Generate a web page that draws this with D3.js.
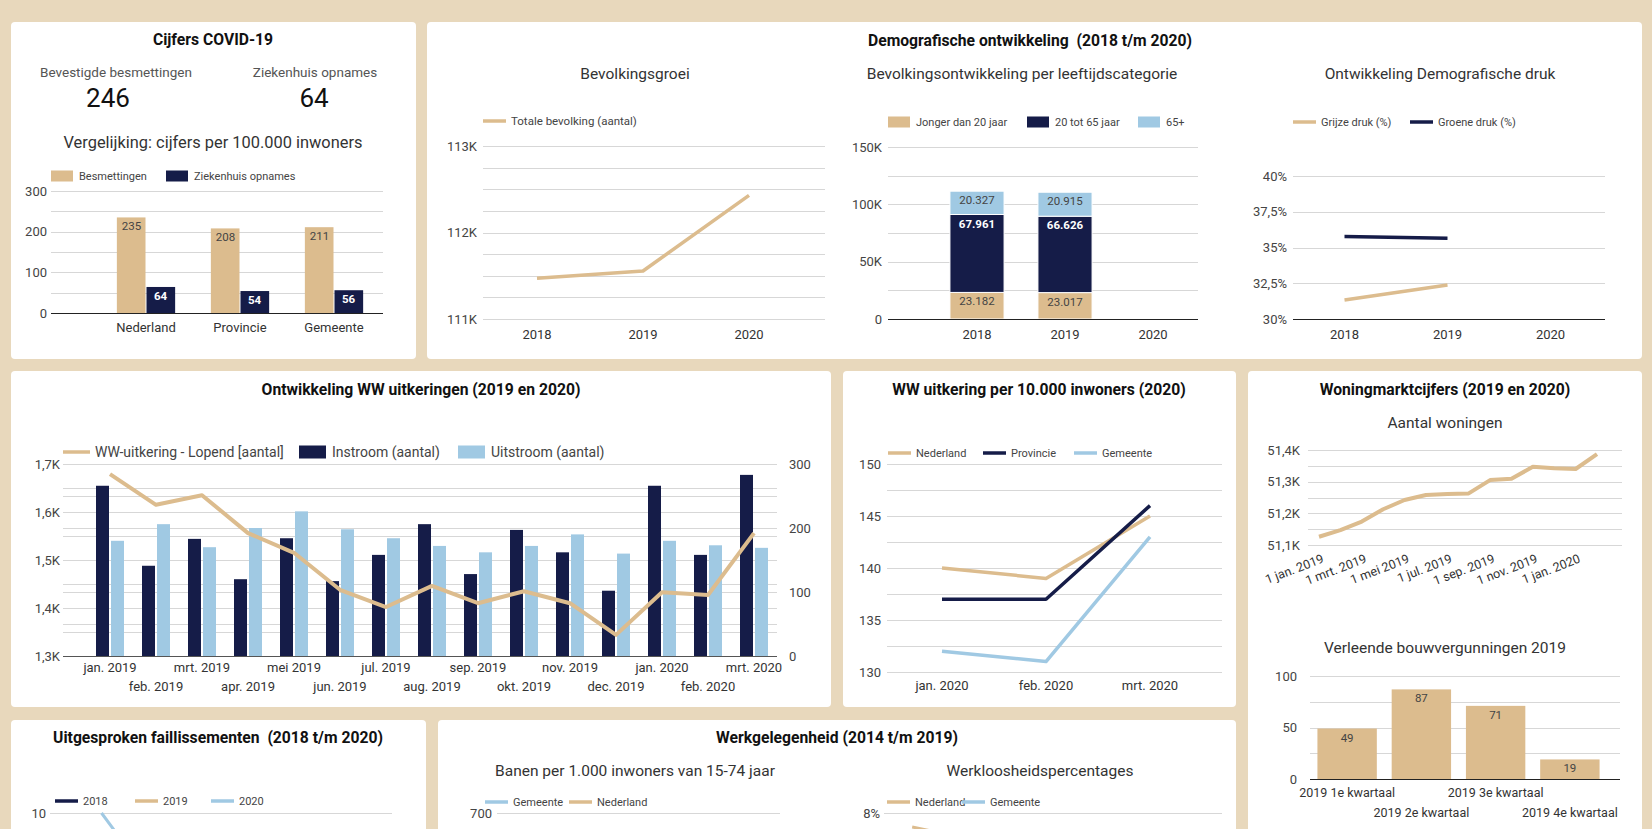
<!DOCTYPE html>
<html>
<head>
<meta charset="utf-8">
<script src="https://cdnjs.cloudflare.com/ajax/libs/d3/7.8.5/d3.min.js"></script>
<style>
  html, body { margin: 0; padding: 0; background: #e8d8bc; overflow: hidden; }
  svg { display: block; font-family: Roboto, 'Noto Sans', sans-serif; }
</style>
</head>
<body>
<div id="dash"></div>
<script>
// Dashboard data
const covidKpiLabels = ['Bevestigde besmettingen', 'Ziekenhuis opnames'];
const covidKpiValues = [246, 64];
const covidCats = ['Nederland', 'Provincie', 'Gemeente'];
const covidBesmettingen = [235, 208, 211];
const covidZiekenhuis = [64, 54, 56];

const years = ['2018', '2019', '2020'];
const bevolking = [111470, 111555, 112430];
const jongerDan20 = [23182, 23017];
const tussen20en65 = [67961, 66626];
const ouder65 = [20327, 20915];
const grijzeDruk = [31.33, 32.38];
const groeneDruk = [35.77, 35.65];

const wwMonths = ['jan. 2019', 'feb. 2019', 'mrt. 2019', 'apr. 2019', 'mei 2019', 'jun. 2019', 'jul. 2019',
  'aug. 2019', 'sep. 2019', 'okt. 2019', 'nov. 2019', 'dec. 2019', 'jan. 2020', 'feb. 2020', 'mrt. 2020'];
const wwLopend = [1679, 1615, 1635, 1556, 1515, 1438, 1402, 1446, 1410, 1435, 1410, 1344, 1433, 1427, 1556];
const wwInstroom = [266, 141, 183, 120, 184, 117, 158, 206, 128, 197, 162, 102, 266, 158, 283];
const wwUitstroom = [180, 206, 170, 200, 226, 198, 184, 172, 162, 172, 190, 160, 180, 173, 169];

const ww10kMonths = ['jan. 2020', 'feb. 2020', 'mrt. 2020'];
const ww10kNederland = [140, 139, 145];
const ww10kProvincie = [137, 137, 146];
const ww10kGemeente = [132, 131, 143];

const woningMonths = ['1 jan. 2019', '1 feb. 2019', '1 mrt. 2019', '1 apr. 2019', '1 mei 2019', '1 jun. 2019',
  '1 jul. 2019', '1 aug. 2019', '1 sep. 2019', '1 okt. 2019', '1 nov. 2019', '1 dec. 2019', '1 jan. 2020', '1 feb. 2020'];
const woningen = [51126, 51147, 51174, 51213, 51242, 51258, 51261, 51263, 51305, 51309, 51347, 51342, 51340, 51387];

const kwartalen = ['2019 1e kwartaal', '2019 2e kwartaal', '2019 3e kwartaal', '2019 4e kwartaal'];
const bouwvergunningen = [49, 87, 71, 19];

const faillKwartalen = ['1e kw', '2e kw', '3e kw', '4e kw'];
const faill2018 = [6, 7, 5, 6];
const faill2019 = [5, 6, 7, 4];
const faill2020 = [10, 4, 3, 3];

const werkJaren = ['2014', '2015', '2016', '2017', '2018', '2019'];
const banenGemeente = [560, 565, 575, 590, 600, 610];
const banenNederland = [580, 585, 592, 605, 615, 620];
const werklNederland = [7.4, 6.9, 6.0, 4.9, 3.8, 3.4];
const werklGemeente = [6.8, 6.3, 5.5, 4.5, 3.5, 3.1];

// Colours
const TAN = '#dcbc8e';
const NAVY = '#151c48';
const BLUE = '#a0c9e3';
const GRID = '#d7d7d7';
const BG = '#e8d8bc';

const W = 1652, H = 829;
const TITLE = 15.7;

const fmtInt = d3.formatLocale({ decimal: ',', thousands: '.', grouping: [3], currency: ['€', ''] }).format(',d');
const fmtK = v => v === 0 ? '0' : String(+(v / 1000).toFixed(1)).replace('.', ',') + 'K';
const fmtPct = v => String(v).replace('.', ',') + '%';

const svg = d3.select('#dash').append('svg')
  .attr('width', W)
  .attr('height', H)
  .attr('viewBox', `0 0 ${W} ${H}`);

svg.append('rect').attr('width', W).attr('height', H).style('fill', BG);

function card(x, y, w, h) {
  svg.append('rect')
    .attr('x', x).attr('y', y).attr('width', w).attr('height', h)
    .attr('rx', 4).attr('ry', 4)
    .style('fill', '#ffffff');
  return svg.append('g');
}

function label(g, x, y, str, size, opts = {}) {
  return g.append('text')
    .attr('x', x)
    .attr('y', y)
    .attr('dy', '0.35em')
    .attr('text-anchor', opts.anchor || 'middle')
    .style('font-size', size + 'px')
    .style('font-weight', opts.weight || 400)
    .style('fill', opts.color || '#444')
    .style('white-space', 'pre')
    .text(str);
}

function gridLines(g, y, ticks, x0, x1) {
  g.selectAll(null)
    .data(ticks)
    .enter()
    .append('line')
    .attr('x1', x0).attr('x2', x1)
    .attr('y1', d => Math.round(y(d)) + 0.5)
    .attr('y2', d => Math.round(y(d)) + 0.5)
    .style('stroke', GRID)
    .style('stroke-width', 1);
}

function baseline(g, yPos, x0, x1, color = '#222') {
  g.append('line')
    .attr('x1', x0).attr('x2', x1)
    .attr('y1', Math.round(yPos) + 0.5).attr('y2', Math.round(yPos) + 0.5)
    .style('stroke', color)
    .style('stroke-width', 1.2);
}

function yLabels(g, y, ticks, x, fmt, anchor = 'end', size = 13) {
  ticks.forEach(t => label(g, x, y(t), fmt(t), size, { anchor, color: '#444' }));
}

function legendBox(g, x, y, color, str, w = 22, h = 11, size = 11) {
  g.append('rect').attr('x', x).attr('y', y - h / 2).attr('width', w).attr('height', h).style('fill', color);
  label(g, x + w + 6, y, str, size, { anchor: 'start', color: '#444' });
}

function legendLine(g, x, y, color, str, w = 23, size = 11) {
  g.append('line')
    .attr('x1', x).attr('x2', x + w).attr('y1', y).attr('y2', y)
    .style('stroke', color).style('stroke-width', 3.5);
  label(g, x + w + 5, y, str, size, { anchor: 'start', color: '#444' });
}

function drawLine(g, xs, y, values, color, width = 3.5) {
  const line = d3.line()
    .x((d, i) => xs(i))
    .y(d => y(d));
  g.append('path')
    .datum(values)
    .attr('d', line)
    .style('fill', 'none')
    .style('stroke', color)
    .style('stroke-width', width)
    .style('stroke-linejoin', 'round');
}

// ---------- Cijfers COVID-19 ----------
{
  const g = card(11, 22, 405, 337);
  label(g, 213, 40, 'Cijfers COVID-19', TITLE, { weight: 700, color: '#111' });
  const kpiLabelX = [116, 315];
  const kpiValueX = [108, 314];
  covidKpiLabels.forEach((t, i) => {
    label(g, kpiLabelX[i], 72, t, 13.5, { color: '#555' });
    label(g, kpiValueX[i], 98, covidKpiValues[i], 26, { color: '#111' });
  });
  label(g, 213, 142, 'Vergelijking: cijfers per 100.000 inwoners', 16.4, { color: '#333' });

  legendBox(g, 51, 176, TAN, 'Besmettingen');
  legendBox(g, 166, 176, NAVY, 'Ziekenhuis opnames');

  const x = d3.scaleBand().domain(covidCats).range([99, 381]);
  const y = d3.scaleLinear().domain([0, 300]).range([313, 191]);
  gridLines(g, y, d3.range(50, 301, 50), 51, 383);
  yLabels(g, y, [0, 100, 200, 300], 47, d => d);

  const bw = x.bandwidth() * 0.31;
  covidCats.forEach((c, i) => {
    const cx = x(c) + x.bandwidth() / 2;
    g.append('rect')
      .attr('x', cx - bw).attr('y', y(covidBesmettingen[i]))
      .attr('width', bw - 0.5).attr('height', y(0) - y(covidBesmettingen[i]))
      .style('fill', TAN);
    g.append('rect')
      .attr('x', cx + 0.5).attr('y', y(covidZiekenhuis[i]))
      .attr('width', bw - 0.5).attr('height', y(0) - y(covidZiekenhuis[i]))
      .style('fill', NAVY);
    label(g, cx - bw / 2, y(covidBesmettingen[i]) + 9, covidBesmettingen[i], 11.5, { color: '#444' });
    label(g, cx + bw / 2, y(covidZiekenhuis[i]) + 9, covidZiekenhuis[i], 11.5, { color: '#fff', weight: 700 });
    label(g, cx, 327, c, 13, { color: '#333' });
  });
  baseline(g, y(0), 51, 383);
}

// ---------- Demografische ontwikkeling ----------
{
  const g = card(427, 22, 1215, 337);
  label(g, 1030, 41, 'Demografische ontwikkeling  (2018 t/m 2020)', TITLE, { weight: 700, color: '#111' });

  // Bevolkingsgroei
  label(g, 635, 74, 'Bevolkingsgroei', 15.5, { color: '#333' });
  legendLine(g, 483, 121, TAN, 'Totale bevolking (aantal)', 23, 11.5);
  const x1 = d3.scaleBand().domain(years).range([484, 802]);
  const y1 = d3.scaleLinear().domain([111000, 113000]).range([319, 146]);
  gridLines(g, y1, d3.range(111000, 113001, 250), 483, 825);
  yLabels(g, y1, [111000, 112000, 113000], 477, fmtK);
  drawLine(g, i => x1(years[i]) + x1.bandwidth() / 2, y1, bevolking, TAN);
  years.forEach(yr => label(g, x1(yr) + x1.bandwidth() / 2, 334, yr, 13, { color: '#333' }));

  // Bevolkingsontwikkeling per leeftijdscategorie
  label(g, 1022, 74, 'Bevolkingsontwikkeling per leeftijdscategorie', 15.5, { color: '#333' });
  legendBox(g, 888, 122, TAN, 'Jonger dan 20 jaar');
  legendBox(g, 1027, 122, NAVY, '20 tot 65 jaar');
  legendBox(g, 1138, 122, BLUE, '65+');
  const x2 = d3.scaleBand().domain(years).range([933, 1197]);
  const y2 = d3.scaleLinear().domain([0, 150000]).range([319, 147]);
  gridLines(g, y2, d3.range(25000, 150001, 25000), 888, 1198);
  yLabels(g, y2, [0, 50000, 100000, 150000], 882, fmtK);
  const series = [
    { values: jongerDan20, color: TAN, text: '#444', weight: 400 },
    { values: tussen20en65, color: NAVY, text: '#fff', weight: 700 },
    { values: ouder65, color: BLUE, text: '#444', weight: 400 }
  ];
  const bw2 = x2.bandwidth() * 0.615;
  jongerDan20.forEach((_, i) => {
    const cx = x2(years[i]) + x2.bandwidth() / 2;
    let acc = 0;
    series.forEach(s => {
      const v = s.values[i];
      const top = y2(acc + v), bottom = y2(acc);
      g.append('rect')
        .attr('x', cx - bw2 / 2).attr('y', top)
        .attr('width', bw2).attr('height', bottom - top)
        .style('fill', s.color)
        .style('stroke', '#fff').style('stroke-width', 1);
      label(g, cx, top + 9, fmtInt(v), 11.5, { color: s.text, weight: s.weight });
      acc += v;
    });
  });
  baseline(g, y2(0), 888, 1198);
  years.forEach(yr => label(g, x2(yr) + x2.bandwidth() / 2, 334, yr, 13, { color: '#333' }));

  // Ontwikkeling Demografische druk
  label(g, 1440, 74, 'Ontwikkeling Demografische druk', 15.5, { color: '#333' });
  legendLine(g, 1293, 122, TAN, 'Grijze druk (%)');
  legendLine(g, 1410, 122, NAVY, 'Groene druk (%)');
  const x3 = d3.scaleBand().domain(years).range([1293, 1602]);
  const y3 = d3.scaleLinear().domain([30, 40]).range([319, 176]);
  gridLines(g, y3, [32.5, 35, 37.5, 40], 1293, 1605);
  yLabels(g, y3, [30, 32.5, 35, 37.5, 40], 1287, fmtPct);
  drawLine(g, i => x3(years[i]) + x3.bandwidth() / 2, y3, groeneDruk, NAVY);
  drawLine(g, i => x3(years[i]) + x3.bandwidth() / 2, y3, grijzeDruk, TAN);
  baseline(g, y3(30), 1293, 1605);
  years.forEach(yr => label(g, x3(yr) + x3.bandwidth() / 2, 334, yr, 13, { color: '#333' }));
}

// ---------- Ontwikkeling WW uitkeringen ----------
{
  const g = card(11, 371, 820, 336);
  label(g, 421, 390, 'Ontwikkeling WW uitkeringen (2019 en 2020)', TITLE, { weight: 700, color: '#111' });
  legendLine(g, 63, 452, TAN, 'WW-uitkering - Lopend [aantal]', 27, 14);
  legendBox(g, 299, 452, NAVY, 'Instroom (aantal)', 27, 13, 14);
  legendBox(g, 458, 452, BLUE, 'Uitstroom (aantal)', 27, 13, 14);

  const x = d3.scaleBand().domain(wwMonths).range([87, 777]);
  const yL = d3.scaleLinear().domain([1300, 1700]).range([656, 464]);
  const yR = d3.scaleLinear().domain([0, 300]).range([656, 464]);
  gridLines(g, yL, d3.range(1350, 1701, 50), 63, 777);
  gridLines(g, yR, d3.range(50, 301, 50), 63, 777);
  yLabels(g, yL, d3.range(1300, 1701, 100), 60, fmtK);
  yLabels(g, yR, d3.range(0, 301, 100), 789, d => d, 'start');

  wwMonths.forEach((m, i) => {
    const cx = x(m) + x.bandwidth() / 2;
    g.append('rect')
      .attr('x', cx - 14).attr('y', yR(wwInstroom[i]))
      .attr('width', 13).attr('height', yR(0) - yR(wwInstroom[i]))
      .style('fill', NAVY);
    g.append('rect')
      .attr('x', cx + 1).attr('y', yR(wwUitstroom[i]))
      .attr('width', 13).attr('height', yR(0) - yR(wwUitstroom[i]))
      .style('fill', BLUE);
    label(g, cx, i % 2 === 0 ? 667 : 686, m, 13, { color: '#333' });
  });
  drawLine(g, i => x(wwMonths[i]) + x.bandwidth() / 2, yL, wwLopend, TAN, 4);
  baseline(g, yL(1300), 63, 777, '#555');
}

// ---------- WW uitkering per 10.000 inwoners ----------
{
  const g = card(843, 371, 393, 336);
  label(g, 1039, 390, 'WW uitkering per 10.000 inwoners (2020)', TITLE, { weight: 700, color: '#111' });
  legendLine(g, 888, 453, TAN, 'Nederland');
  legendLine(g, 983, 453, NAVY, 'Provincie');
  legendLine(g, 1074, 453, BLUE, 'Gemeente');

  const x = d3.scaleBand().domain(ww10kMonths).range([890, 1202]);
  const y = d3.scaleLinear().domain([130, 150]).range([672, 464]);
  gridLines(g, y, d3.range(130, 150.1, 2.5), 887, 1222);
  yLabels(g, y, [130, 135, 140, 145, 150], 881, d => d);
  const xs = i => x(ww10kMonths[i]) + x.bandwidth() / 2;
  drawLine(g, xs, y, ww10kGemeente, BLUE);
  drawLine(g, xs, y, ww10kNederland, TAN);
  drawLine(g, xs, y, ww10kProvincie, NAVY);
  ww10kMonths.forEach((m, i) => label(g, xs(i), 685, m, 13, { color: '#333' }));
}

// ---------- Woningmarktcijfers ----------
{
  const g = card(1248, 371, 394, 480);
  label(g, 1445, 390, 'Woningmarktcijfers (2019 en 2020)', TITLE, { weight: 700, color: '#111' });
  label(g, 1445, 423, 'Aantal woningen', 15.5, { color: '#333' });

  const x = d3.scalePoint().domain(woningMonths).range([1319, 1597]);
  const y = d3.scaleLinear().domain([51100, 51400]).range([545, 450]);
  gridLines(g, y, d3.range(51100, 51401, 50), 1308, 1622);
  yLabels(g, y, [51100, 51200, 51300, 51400], 1300, fmtK);
  drawLine(g, i => x(woningMonths[i]), y, woningen, TAN, 4);
  woningMonths.forEach((m, i) => {
    if (i % 2 !== 0) return;
    g.append('text')
      .attr('transform', `translate(${x(m) + 4},${558}) rotate(-21)`)
      .attr('text-anchor', 'end')
      .attr('dy', '0.35em')
      .style('font-size', '12.5px')
      .style('fill', '#333')
      .text(m);
  });

  // Verleende bouwvergunningen 2019
  label(g, 1445, 648, 'Verleende bouwvergunningen 2019', 15.5, { color: '#333' });
  const xb = d3.scaleBand().domain(kwartalen).range([1310, 1607]).paddingInner(0.2).paddingOuter(0.1);
  const yb = d3.scaleLinear().domain([0, 100]).range([779, 676]);
  gridLines(g, yb, d3.range(25, 101, 25), 1310, 1620);
  yLabels(g, yb, [0, 50, 100], 1297, d => d);
  kwartalen.forEach((k, i) => {
    g.append('rect')
      .attr('x', xb(k)).attr('y', yb(bouwvergunningen[i]))
      .attr('width', xb.bandwidth()).attr('height', yb(0) - yb(bouwvergunningen[i]))
      .style('fill', TAN);
    label(g, xb(k) + xb.bandwidth() / 2, yb(bouwvergunningen[i]) + 9, bouwvergunningen[i], 11.5, { color: '#444' });
    label(g, xb(k) + xb.bandwidth() / 2, i % 2 === 0 ? 793 : 813, k, 12.5, { color: '#333' });
  });
  baseline(g, yb(0), 1310, 1620);
}

// ---------- Uitgesproken faillissementen ----------
{
  const g = card(11, 720, 415, 200);
  label(g, 218, 738, 'Uitgesproken faillissementen  (2018 t/m 2020)', TITLE, { weight: 700, color: '#111' });
  legendLine(g, 55, 801, NAVY, '2018');
  legendLine(g, 135, 801, TAN, '2019');
  legendLine(g, 211, 801, BLUE, '2020');

  const x = d3.scaleBand().domain(faillKwartalen).range([60, 392]);
  const y = d3.scaleLinear().domain([0, 10]).range([1000, 813]);
  gridLines(g, y, [10], 50, 392);
  yLabels(g, y, [10], 46, d => d);
  const xs = i => x(faillKwartalen[i]) + x.bandwidth() / 2;
  drawLine(g, xs, y, faill2018, NAVY, 3);
  drawLine(g, xs, y, faill2019, TAN, 3);
  drawLine(g, xs, y, faill2020, BLUE, 3);
}

// ---------- Werkgelegenheid ----------
{
  const g = card(438, 720, 798, 200);
  label(g, 837, 738, 'Werkgelegenheid (2014 t/m 2019)', TITLE, { weight: 700, color: '#111' });

  label(g, 635, 771, 'Banen per 1.000 inwoners van 15-74 jaar', 15.5, { color: '#333' });
  legendLine(g, 485, 802, BLUE, 'Gemeente');
  legendLine(g, 569, 802, TAN, 'Nederland');
  const x1 = d3.scaleBand().domain(werkJaren).range([497, 780]);
  const y1 = d3.scaleLinear().domain([0, 700]).range([1000, 813]);
  gridLines(g, y1, [700], 497, 780);
  yLabels(g, y1, [700], 492, d => d);
  const xs1 = i => x1(werkJaren[i]) + x1.bandwidth() / 2;
  drawLine(g, xs1, y1, banenGemeente, BLUE, 3);
  drawLine(g, xs1, y1, banenNederland, TAN, 3);

  label(g, 1040, 771, 'Werkloosheidspercentages', 15.5, { color: '#333' });
  legendLine(g, 887, 802, TAN, 'Nederland');
  legendLine(g, 962, 802, BLUE, 'Gemeente');
  const x2 = d3.scaleBand().domain(werkJaren).range([884, 1222]);
  const y2 = d3.scaleLinear().domain([0, 8]).range([1000, 813]);
  gridLines(g, y2, [8], 884, 1222);
  yLabels(g, y2, [8], 880, fmtPct);
  const xs2 = i => x2(werkJaren[i]) + x2.bandwidth() / 2;
  drawLine(g, xs2, y2, werklGemeente, BLUE, 3);
  drawLine(g, xs2, y2, werklNederland, TAN, 3);
}
</script>
</body>
</html>
